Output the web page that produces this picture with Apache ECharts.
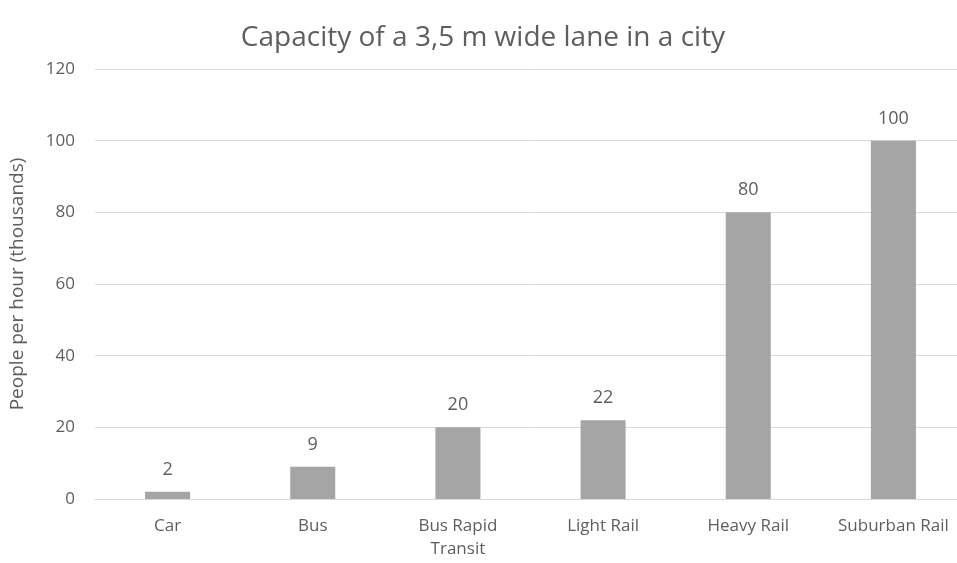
<!DOCTYPE html>
<html>
<head>
<meta charset="utf-8">
<script src="https://cdn.jsdelivr.net/npm/echarts@6/dist/echarts.min.js"></script>
<style>
  html, body { margin: 0; padding: 0; background: #fff; overflow: hidden; width: 957px; height: 563px; }
  /* the plot runs slightly past the right edge of the page, so the chart box is wider than the view */
  #chart { width: 966px; height: 563px; }
</style>
</head>
<body>
<div id="chart"></div>
<script>
// Lane capacity per transport mode, thousands of people per hour
const categories = ['Car', 'Bus', 'Bus Rapid\nTransit', 'Light Rail', 'Heavy Rail', 'Suburban Rail'];
const capacity = [2, 9, 20, 22, 80, 100];
const yTicks = { min: 0, max: 120, interval: 20 };

const textColor = '#5e5e5e';
const fontFamily = '"Open Sans", "Noto Sans", sans-serif';

const chart = echarts.init(document.getElementById('chart'), null, { renderer: 'canvas' });
chart.setOption({
  animation: false,
  backgroundColor: '#ffffff',
  title: {
    text: 'Capacity of a 3,5 m wide lane in a city',
    left: 'center',
    top: 19,
    textStyle: { color: textColor, fontSize: 28, fontWeight: 'normal', fontFamily: fontFamily }
  },
  grid: { left: 94, top: 69, right: 0, height: 430, containLabel: false },
  xAxis: {
    type: 'category',
    data: categories,
    axisLine: { show: true, lineStyle: { color: '#d9d9d9', width: 1 } },
    axisTick: { show: false },
    axisLabel: {
      color: textColor, fontSize: 17, fontFamily: fontFamily,
      margin: 16, lineHeight: 23, interval: 0
    }
  },
  yAxis: {
    type: 'value',
    min: yTicks.min, max: yTicks.max, interval: yTicks.interval,
    name: 'People per hour (thousands)',
    nameLocation: 'middle',
    nameGap: 68,
    nameTextStyle: { color: textColor, fontSize: 19, fontFamily: fontFamily },
    axisLine: { show: false },
    axisTick: { show: false },
    axisLabel: { color: textColor, fontSize: 17, fontFamily: fontFamily, margin: 20 },
    splitLine: { lineStyle: { color: '#d9d9d9', width: 1 } }
  },
  series: [{
    type: 'bar',
    data: capacity,
    barWidth: 45,
    itemStyle: { color: '#a5a5a5' },
    label: {
      show: true, position: 'top', distance: 13,
      color: textColor, fontSize: 18, fontFamily: fontFamily
    }
  }]
});
</script>
</body>
</html>
